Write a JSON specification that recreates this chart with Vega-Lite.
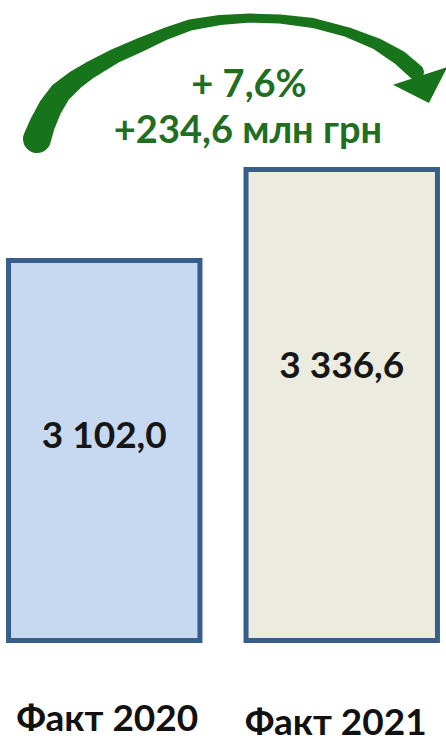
{
  "$schema": "https://vega.github.io/schema/vega-lite/v6.json",
  "width": 446,
  "height": 643,
  "padding": 0,
  "background": "white",
  "config": {
    "view": {"stroke": null},
    "locale": {"number": {"decimal": ",", "thousands": " ", "grouping": [3], "currency": ["", ""]}}
  },
  "layer": [
    {
      "data": {"values": [
        {"label": "Факт 2020", "value": 3102.0},
        {"label": "Факт 2021", "value": 3336.6}
      ]},
      "layer": [
        {
          "mark": {"type": "bar", "stroke": "#385d8a", "strokeWidth": 5},
          "encoding": {
            "x": {"field": "label", "type": "nominal", "sort": null,
              "scale": {"paddingInner": 0.194, "paddingOuter": 0.036},
              "axis": {"title": null, "domain": false, "ticks": false, "tickSize": 0, "labelAngle": 0, "labelLimit": 0,
                "labelFont": "Lato", "labelFontWeight": "bold", "labelFontSize": 37, "labelColor": "#111111",
                "labelBaseline": "alphabetic",
                "labelPadding": {"condition": {"test": "datum.value === 'Факт 2021'", "value": 91}, "value": 87},
                "labelOffset": {"condition": {"test": "datum.value === 'Факт 2021'", "value": -6}, "value": 3}}},
            "y": {"field": "value", "type": "quantitative",
              "scale": {"domain": [2115.9, 3773.6], "nice": false, "zero": false}, "axis": null},
            "y2": {"datum": 2122.4},
            "fill": {"field": "label", "type": "nominal", "scale": {"range": ["#c6d9f1", "#ebecdf"]}, "legend": null}
          }
        },
        {
          "mark": {"type": "text", "font": "Lato", "fontWeight": "bold", "fontSize": 37, "color": "#161616",
            "baseline": "middle", "dy": {"expr": "datum.label === 'Факт 2021' ? 197 : 176"}},
          "encoding": {
            "x": {"field": "label", "type": "nominal", "sort": null},
            "y": {"field": "value", "type": "quantitative"},
            "text": {"field": "value", "type": "quantitative", "format": ",.1f"}
          }
        }
      ]
    },
    {
      "data": {"values": [
        {"i": 1, "x": 37, "y": 139, "w": 28},
        {"i": 2, "x": 42, "y": 125, "w": 26},
        {"i": 3, "x": 50, "y": 108, "w": 24},
        {"i": 4, "x": 60, "y": 93, "w": 22},
        {"i": 5, "x": 75, "y": 80, "w": 19},
        {"i": 6, "x": 90, "y": 70, "w": 17},
        {"i": 7, "x": 115, "y": 56, "w": 15},
        {"i": 8, "x": 140, "y": 45, "w": 14},
        {"i": 9, "x": 165, "y": 34, "w": 12},
        {"i": 10, "x": 190, "y": 25, "w": 11},
        {"i": 11, "x": 220, "y": 20, "w": 10},
        {"i": 12, "x": 250, "y": 18, "w": 9},
        {"i": 13, "x": 280, "y": 19, "w": 9},
        {"i": 14, "x": 313, "y": 23, "w": 10},
        {"i": 15, "x": 347, "y": 32, "w": 10},
        {"i": 16, "x": 377, "y": 44, "w": 12},
        {"i": 17, "x": 400, "y": 58, "w": 15},
        {"i": 18, "x": 416, "y": 72, "w": 16}
      ]},
      "mark": {"type": "trail", "color": "#17741a"},
      "encoding": {
        "x": {"field": "x", "type": "quantitative", "scale": {"domain": [0, 446], "nice": false, "zero": false}, "axis": null},
        "y": {"field": "y", "type": "quantitative", "scale": {"domain": [0, 643], "reverse": true, "nice": false, "zero": false}, "axis": null},
        "size": {"field": "w", "type": "quantitative", "scale": null, "legend": null},
        "order": {"field": "i", "type": "quantitative"}
      }
    },
    {
      "data": {"values": [{"x": 424.5, "y": 89.5}]},
      "mark": {"type": "point", "shape": "M -0.5 -1 L 0.5 0 L -0.5 1 Z", "filled": true, "opacity": 1,
        "color": "#17741a", "size": 3250, "angle": 72},
      "encoding": {
        "x": {"field": "x", "type": "quantitative", "scale": {"domain": [0, 446], "nice": false, "zero": false}, "axis": null},
        "y": {"field": "y", "type": "quantitative", "scale": {"domain": [0, 643], "reverse": true, "nice": false, "zero": false}, "axis": null}
      }
    },
    {
      "data": {"values": [
        {"x": 249, "y": 97, "text": "+ 7,6%"},
        {"x": 248, "y": 143, "text": "+234,6 млн грн"}
      ]},
      "mark": {"type": "text", "font": "Lato", "fontWeight": "bold", "fontSize": 38, "color": "#1f6e21",
        "baseline": "alphabetic", "align": "center"},
      "encoding": {
        "x": {"field": "x", "type": "quantitative", "scale": {"domain": [0, 446], "nice": false, "zero": false}, "axis": null},
        "y": {"field": "y", "type": "quantitative", "scale": {"domain": [0, 643], "reverse": true, "nice": false, "zero": false}, "axis": null},
        "text": {"field": "text", "type": "nominal"}
      }
    }
  ],
  "resolve": {"scale": {"x": "independent", "y": "independent", "fill": "independent"}}
}
